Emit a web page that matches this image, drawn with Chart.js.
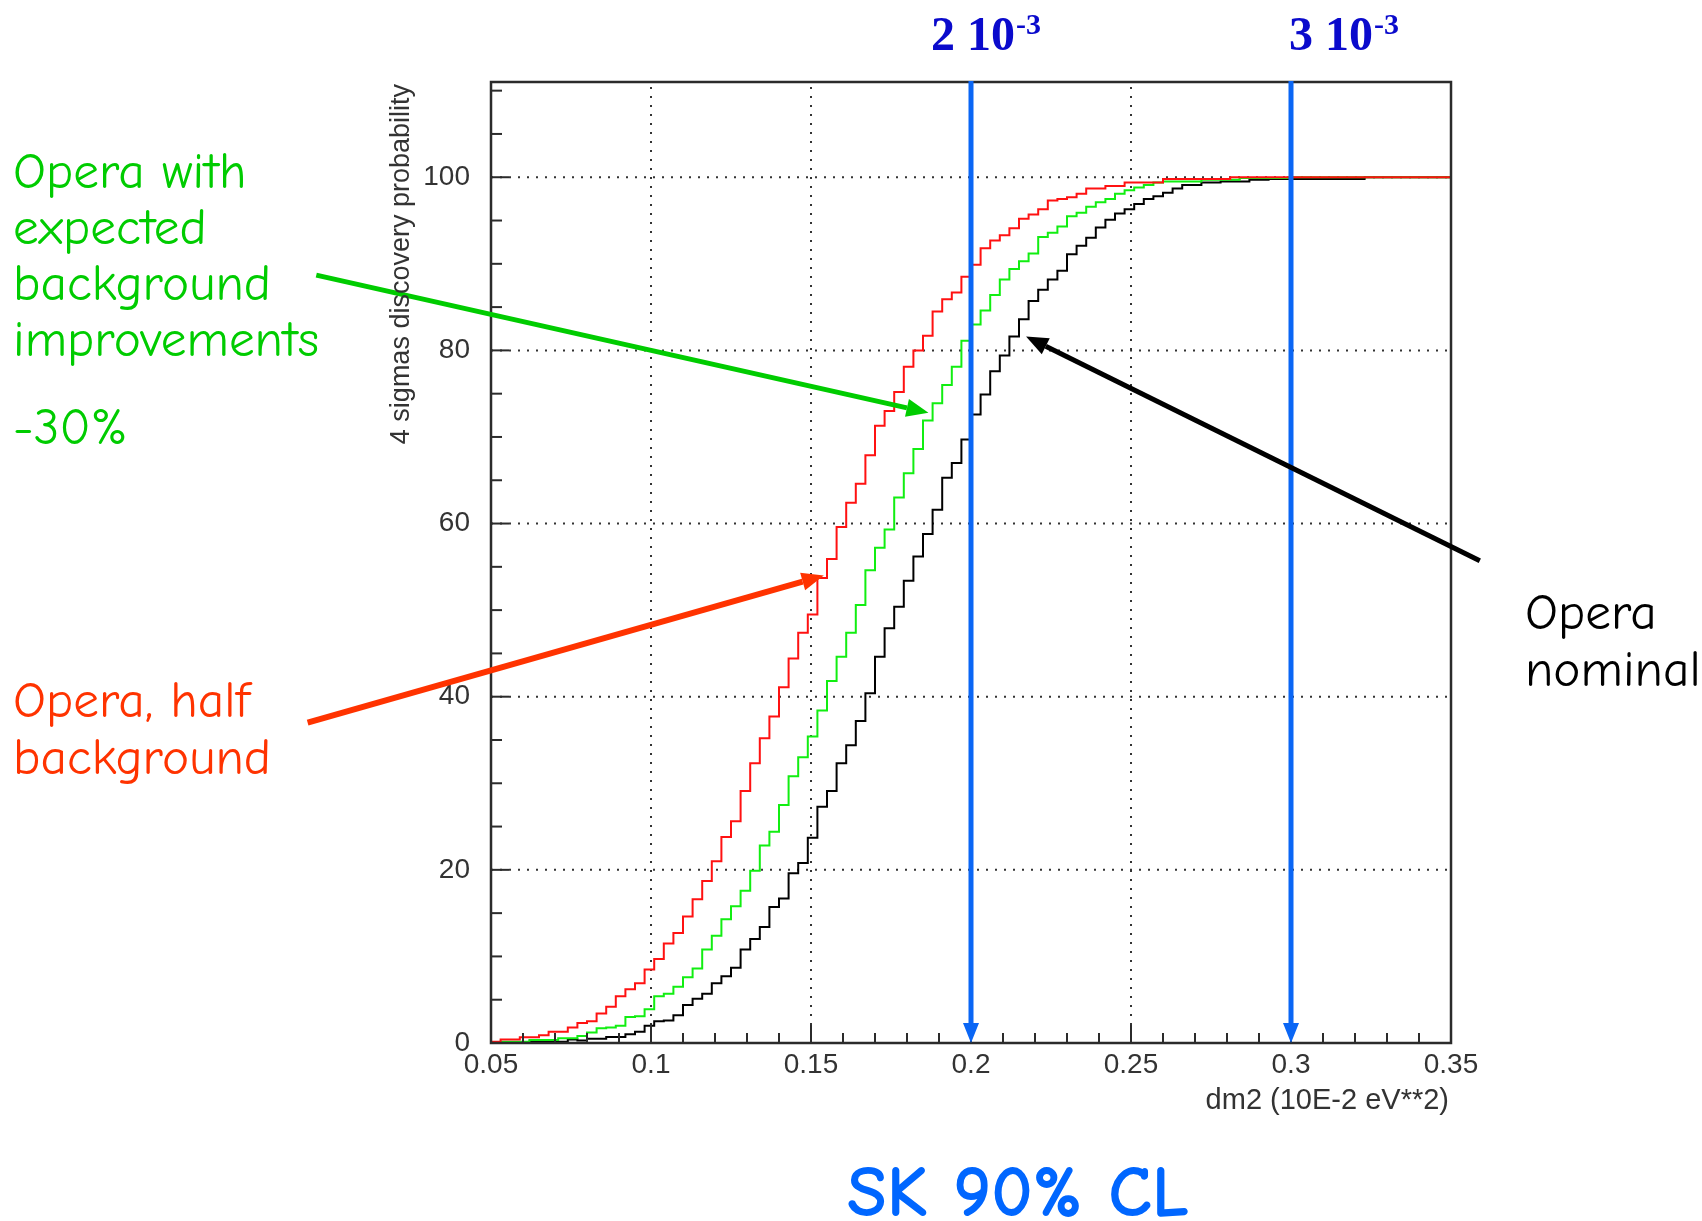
<!DOCTYPE html>
<html>
<head>
<meta charset="utf-8">
<script src="https://cdn.jsdelivr.net/npm/chart.js@4.4.0/dist/chart.umd.min.js"></script>
<style>
  html, body { margin: 0; padding: 0; background: #fff; }
</style>
</head>
<body>
<canvas id="opera" width="1702" height="1221"></canvas>
<script>
// histogram binning of dm2 (10E-2 eV**2)
const binLow = 0.05;
const binHigh = 0.35;
const nBins = 100;

// 4 sigmas discovery probability (%) per bin
const halfBackground = [
  0.15, 0.15, 0.4, 0.4, 0.65, 0.65, 0.9, 1.3, 1.3, 1.8,
  2.3, 2.5, 3.4, 4.2, 5.4, 6.2, 6.9, 8.5, 9.7, 11.5,
  12.7, 14.6, 16.6, 18.7, 21.0, 23.8, 25.6, 29.1, 32.3, 35.2,
  37.7, 41.1, 44.4, 47.4, 49.5, 53.7, 55.9, 59.6, 62.4, 64.6,
  67.9, 71.3, 73.0, 75.2, 78.1, 80.0, 81.7, 84.5, 85.9, 86.7,
  88.5, 89.9, 91.8, 92.7, 93.3, 94.1, 95.2, 95.7, 96.3, 97.3,
  97.5, 97.7, 98.1, 98.7, 98.7, 99.0, 99.0, 99.4, 99.4, 99.4,
  99.4, 99.8, 99.8, 99.8, 99.8, 99.8, 99.8, 99.8, 100, 100,
  100, 100, 100, 100, 100, 100, 100, 100, 100, 100,
  100, 100, 100, 100, 100, 100, 100, 100, 100, 100
];
const improvedBackground = [
  0.05, 0.05, 0.15, 0.15, 0.15, 0.35, 0.35, 0.35, 0.55, 0.55,
  0.8, 1.2, 1.7, 1.8, 2.0, 3.0, 3.1, 3.9, 5.4, 5.7,
  6.5, 7.6, 8.6, 10.8, 12.4, 14.3, 15.8, 17.6, 19.9, 22.8,
  24.4, 27.5, 30.8, 33.0, 35.4, 38.4, 41.8, 44.6, 47.4, 50.6,
  54.6, 57.2, 59.3, 63.0, 65.8, 68.6, 71.9, 73.9, 76.0, 78.1,
  81.1, 83.0, 84.6, 86.4, 88.2, 89.4, 90.3, 91.2, 93.1, 93.6,
  94.3, 95.5, 95.9, 96.6, 97.1, 97.5, 98.1, 98.5, 98.8, 99.1,
  99.4, 99.5, 99.5, 99.5, 99.5, 99.7, 99.7, 99.7, 99.7, 99.9,
  99.9, 99.9, 99.9, 99.9, 100, 100, 100, 100, 100, 100,
  100, 100, 100, 100, 100, 100, 100, 100, 100, 100
];
const nominal = [
  0.05, 0.05, 0.05, 0.05, 0.05, 0.15, 0.15, 0.15, 0.15, 0.4,
  0.3, 0.5, 0.5, 0.7, 0.7, 1.0, 1.3, 2.0, 2.5, 2.6,
  3.2, 4.4, 5.1, 5.7, 6.9, 7.7, 8.7, 10.8, 12.0, 13.4,
  15.7, 16.7, 19.6, 20.8, 23.7, 27.3, 29.1, 32.3, 34.4, 37.2,
  40.4, 44.6, 47.9, 50.4, 53.4, 56.2, 58.8, 61.6, 65.3, 67.0,
  69.7, 72.6, 74.9, 77.6, 79.4, 81.6, 83.6, 85.7, 87.0, 88.2,
  89.2, 91.1, 92.1, 93.0, 94.2, 95.1, 95.8, 96.3, 96.9, 97.5,
  97.8, 98.2, 98.7, 99.1, 99.1, 99.4, 99.4, 99.5, 99.5, 99.5,
  99.7, 99.7, 99.8, 99.8, 99.8, 99.8, 99.8, 99.8, 99.8, 99.8,
  99.8, 99.8, 100, 100, 100, 100, 100, 100, 100, 100
];

// axes
const xTickValues = [0.05, 0.1, 0.15, 0.2, 0.25, 0.3, 0.35];
const xTickLabels = ['0.05', '0.1', '0.15', '0.2', '0.25', '0.3', '0.35'];
const yTickValues = [0, 20, 40, 60, 80, 100];
const yTickLabels = ['0', '20', '40', '60', '80', '100'];
const xMinorStep = 0.01;
const yMinorStep = 5;
const yMax = 111;

// SK 90% CL limits on dm2
const skLimits = [0.2, 0.3];
const skLabels = ['2 10', '3 10'];

// annotation arrows, in data coordinates [dm2, probability]
const arrowNotes = [
  { from: [-0.0046, 88.7], to: [0.1867, 72.8], color: '#00cc00', width: 5 },
  { from: [-0.0073, 37.0], to: [0.1540, 54.0], color: '#ff3300', width: 6 },
  { from: [0.3590, 55.7], to: [0.2172, 81.6], color: '#000000', width: 5 }
];

const comic = "'Comic Sans MS', 'Comic Neue', 'Noto Sans', sans-serif";

//turn bin contents into step points
function histPoints(values) {
  let w = (binHigh - binLow) / nBins;
  let pts = values.map((v, i) => ({ x: binLow + i * w, y: v }));
  pts.push({ x: binHigh, y: values[values.length - 1] });
  return pts;
}

function drawArrow(ctx, x1, y1, x2, y2, color, width, headLen, headHalf) {
  const ang = Math.atan2(y2 - y1, x2 - x1);
  const bx = x2 - headLen * Math.cos(ang);
  const by = y2 - headLen * Math.sin(ang);
  ctx.strokeStyle = color;
  ctx.fillStyle = color;
  ctx.lineWidth = width;
  ctx.beginPath();
  ctx.moveTo(x1, y1);
  ctx.lineTo(bx, by);
  ctx.stroke();
  ctx.beginPath();
  ctx.moveTo(x2, y2);
  ctx.lineTo(bx + headHalf * Math.sin(ang), by - headHalf * Math.cos(ang));
  ctx.lineTo(bx - headHalf * Math.sin(ang), by + headHalf * Math.cos(ang));
  ctx.closePath();
  ctx.fill();
}

//font size so that text gets the given width
function fitSize(ctx, text, targetWidth, weight) {
  ctx.font = weight + ' 40px ' + comic;
  return 40 * targetWidth / ctx.measureText(text).width;
}

const rootFrame = {
  id: 'rootFrame',
  beforeDatasetsDraw(chart) {
    const { ctx, chartArea: a, scales: { x, y } } = chart;
    ctx.save();
    ctx.strokeStyle = '#333';
    ctx.lineWidth = 2;
    ctx.setLineDash([2, 7]);
    xTickValues.forEach(v => {
      if (v <= x.min + 1e-9 || v >= x.max - 1e-9) return;
      const px = x.getPixelForValue(v);
      ctx.beginPath(); ctx.moveTo(px, a.bottom); ctx.lineTo(px, a.top); ctx.stroke();
    });
    yTickValues.forEach(v => {
      if (v <= y.min) return;
      const py = y.getPixelForValue(v);
      ctx.beginPath(); ctx.moveTo(a.left, py); ctx.lineTo(a.right, py); ctx.stroke();
    });
    ctx.restore();
  },
  afterDatasetsDraw(chart) {
    const { ctx, chartArea: a, scales: { x, y } } = chart;
    ctx.save();

    // frame
    ctx.strokeStyle = '#2b2b2b';
    ctx.lineWidth = 2.5;
    ctx.strokeRect(a.left, a.top, a.right - a.left, a.bottom - a.top);

    // inward ticks
    ctx.lineWidth = 2;
    let nx = Math.round((binHigh - binLow) / xMinorStep);
    for (let i = 0; i <= nx; i++) {
      const px = x.getPixelForValue(binLow + i * xMinorStep);
      const len = (i % 5 == 0) ? 18 : 10;
      ctx.beginPath(); ctx.moveTo(px, a.bottom); ctx.lineTo(px, a.bottom - len); ctx.stroke();
    }
    for (let v = 0; v <= yMax; v += yMinorStep) {
      const py = y.getPixelForValue(v);
      const len = (v % 20 == 0) ? 18 : 11;
      ctx.beginPath(); ctx.moveTo(a.left, py); ctx.lineTo(a.left + len, py); ctx.stroke();
    }

    // SK limits
    skLimits.forEach(v => {
      const px = x.getPixelForValue(v);
      ctx.strokeStyle = '#0a66f5';
      ctx.fillStyle = '#0a66f5';
      ctx.lineWidth = 5;
      ctx.beginPath(); ctx.moveTo(px, a.top - 1); ctx.lineTo(px, a.bottom - 16); ctx.stroke();
      ctx.beginPath();
      ctx.moveTo(px, a.bottom);
      ctx.lineTo(px - 8, a.bottom - 20);
      ctx.lineTo(px + 8, a.bottom - 20);
      ctx.closePath();
      ctx.fill();
    });

    // arrows to the curves
    arrowNotes.forEach(n => {
      drawArrow(ctx,
        x.getPixelForValue(n.from[0]), y.getPixelForValue(n.from[1]),
        x.getPixelForValue(n.to[0]), y.getPixelForValue(n.to[1]),
        n.color, n.width, 22, 9);
    });
    ctx.restore();
  },
  afterDraw(chart) {
    const { ctx, chartArea: a } = chart;
    ctx.save();

    // axis titles
    ctx.fillStyle = '#333';
    ctx.font = '29px "Liberation Sans", Arial, sans-serif';
    ctx.textBaseline = 'middle';
    ctx.textAlign = 'right';
    ctx.fillText('dm2 (10E-2 eV**2)', a.right - 2, 1101);
    ctx.font = '27px "Liberation Sans", Arial, sans-serif';
    ctx.save();
    ctx.translate(402, 84);
    ctx.rotate(-Math.PI / 2);
    ctx.fillText('4 sigmas discovery probability', 0, 0);
    ctx.restore();

    // SK labels above the plot
    ctx.textAlign = 'left';
    ctx.textBaseline = 'alphabetic';
    ctx.fillStyle = '#0a0acc';
    [931, 1289].forEach((lx, i) => {
      ctx.font = 'bold 48px "Liberation Serif", "Times New Roman", serif';
      ctx.fillText(skLabels[i], lx, 50);
      const w = ctx.measureText(skLabels[i]).width;
      ctx.font = 'bold 30px "Liberation Serif", "Times New Roman", serif';
      ctx.fillText('-3', lx + w + 1, 34);
    });

    // hand written notes
    const size = fitSize(ctx, 'improvements', 306, 'normal');
    ctx.font = size.toFixed(1) + 'px ' + comic;
    ctx.fillStyle = '#00cc00';
    ['Opera with', 'expected', 'background', 'improvements'].forEach((t, i) => {
      ctx.fillText(t, 13, 188 + i * 56);
    });
    ctx.fillText('-30%', 13, 444);
    ctx.fillStyle = '#ff3300';
    ctx.fillText('Opera, half', 13, 717);
    ctx.fillText('background', 13, 774);
    ctx.fillStyle = '#000';
    ctx.fillText('Opera', 1525, 629);
    ctx.fillText('nominal', 1525, 686);

    const skSize = fitSize(ctx, 'SK 90% CL', 342, 'bold');
    ctx.font = 'bold ' + skSize.toFixed(1) + 'px ' + comic;
    ctx.fillStyle = '#0066ff';
    ctx.textAlign = 'center';
    ctx.fillText('SK 90% CL', 1018, 1216);
    ctx.restore();
  }
};

const ctx = document.getElementById('opera').getContext('2d');

const myChart = new Chart(ctx, {
  type: 'line',
  data: {
    datasets: [{
      label: 'Opera, half background',
      data: histPoints(halfBackground),
      borderColor: '#ff1111'
    }, {
      label: 'Opera with expected background improvements',
      data: histPoints(improvedBackground),
      borderColor: '#11ee11'
    }, {
      label: 'Opera nominal',
      data: histPoints(nominal),
      borderColor: '#000000'
    }]
  },
  options: {
    responsive: false,
    devicePixelRatio: 1,
    animation: false,
    layout: { padding: { left: 0, right: 251, top: 82, bottom: 0 } },
    elements: {
      line: { borderWidth: 2, stepped: 'after', tension: 0, fill: false },
      point: { radius: 0, hoverRadius: 0 }
    },
    scales: {
      x: {
        type: 'linear',
        min: binLow,
        max: binHigh,
        afterBuildTicks: s => { s.ticks = xTickValues.map(v => ({ value: v })); },
        afterFit: s => { s.height = 178; },
        grid: { display: false },
        border: { display: false },
        ticks: {
          callback: (v, i) => xTickLabels[i],
          font: { family: 'Liberation Sans', size: 28 },
          color: '#333',
          padding: -3,
          maxRotation: 0,
          autoSkip: false
        }
      },
      y: {
        min: 0,
        max: yMax,
        afterBuildTicks: s => { s.ticks = yTickValues.map(v => ({ value: v })); },
        afterFit: s => { s.width = 491; },
        grid: { display: false },
        border: { display: false },
        ticks: {
          callback: (v, i) => yTickLabels[i],
          font: { family: 'Liberation Sans', size: 28 },
          color: '#333',
          padding: 13
        }
      }
    },
    plugins: {
      legend: { display: false },
      tooltip: { enabled: false }
    }
  },
  plugins: [rootFrame]
});
</script>
</body>
</html>
